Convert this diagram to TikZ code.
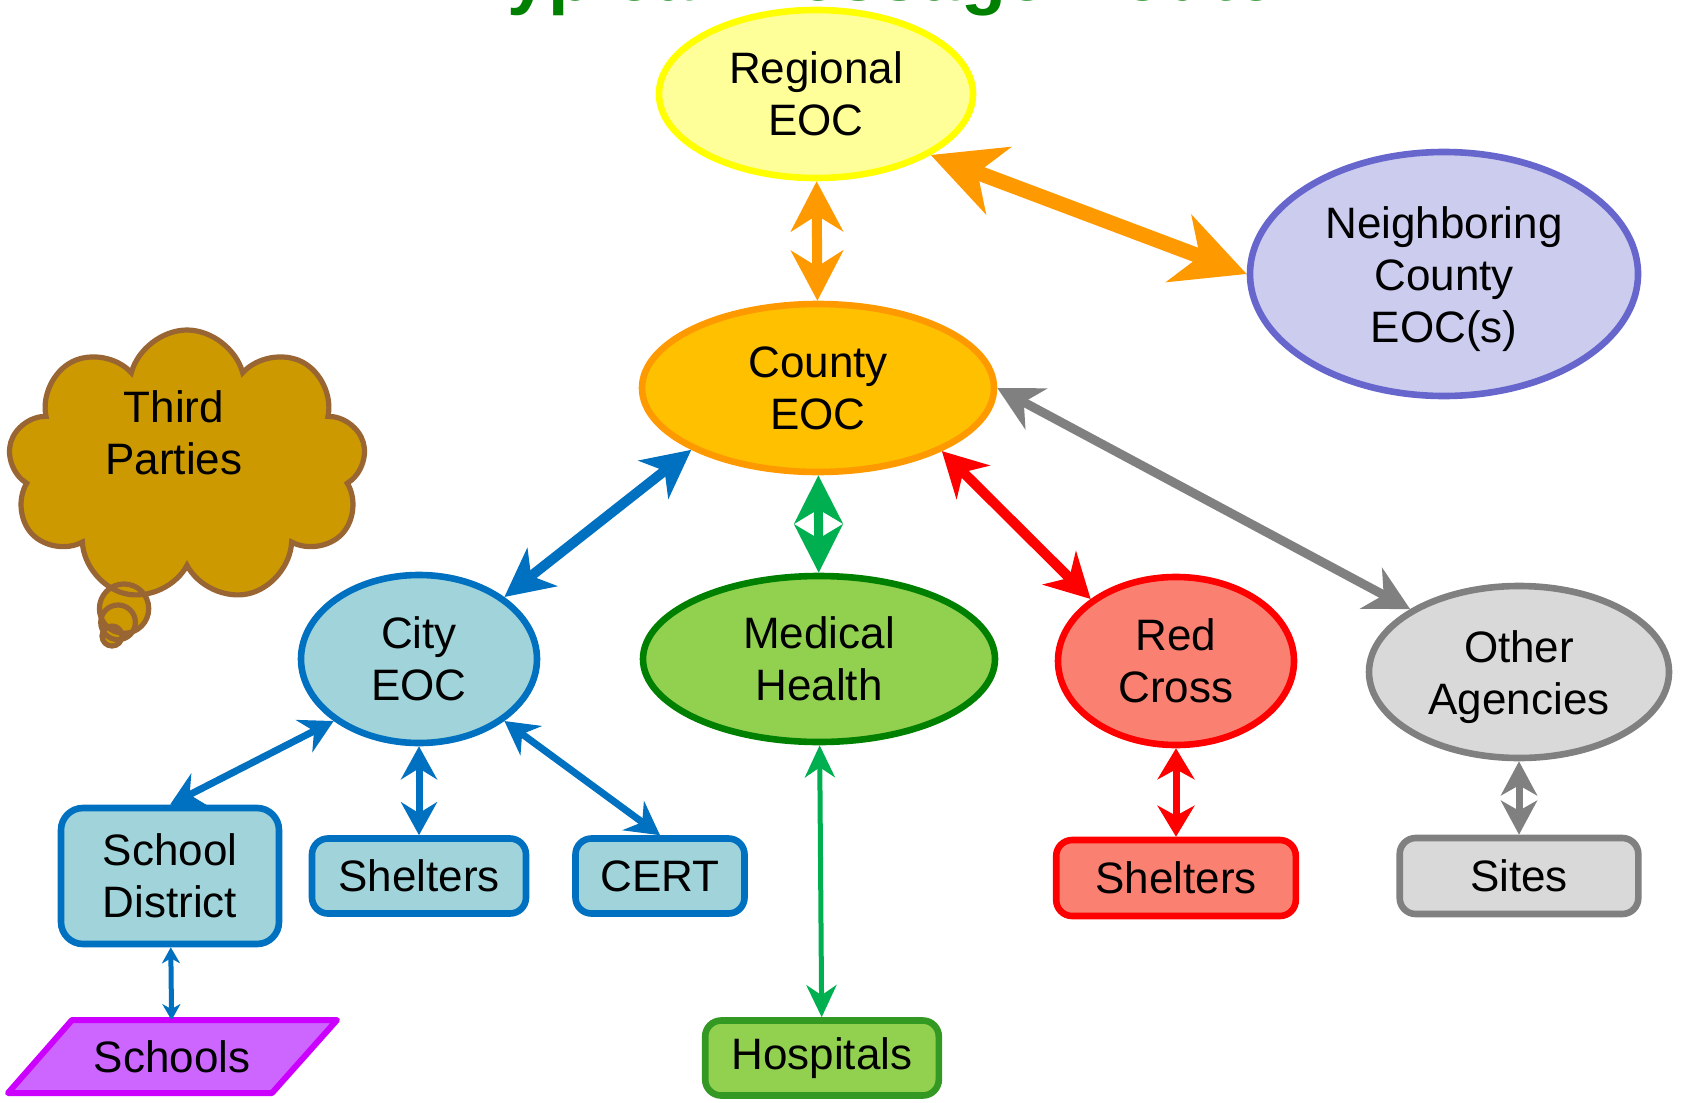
\documentclass[tikz,border=0pt]{standalone}
\usepackage{fontspec}
\setmainfont{Liberation Sans}
\usetikzlibrary{arrows.meta,shapes.geometric,shapes.symbols,shapes.callouts}

\definecolor{titlegreen}{HTML}{008000}
\definecolor{regfill}{HTML}{FFFF99}
\definecolor{regline}{HTML}{FFFF00}
\definecolor{nbrfill}{HTML}{CCCCEE}
\definecolor{nbrline}{HTML}{6666CC}
\definecolor{ctyfill}{HTML}{FFC000}
\definecolor{ctyline}{HTML}{FF9900}
\definecolor{cityfill}{HTML}{A0D4DA}
\definecolor{blueline}{HTML}{0070C0}
\definecolor{medfill}{HTML}{92D050}
\definecolor{medline}{HTML}{008000}
\definecolor{hospline}{HTML}{339922}
\definecolor{rcfill}{HTML}{FA8072}
\definecolor{rcline}{HTML}{FF0000}
\definecolor{othfill}{HTML}{D9D9D9}
\definecolor{othline}{HTML}{808080}
\definecolor{tpfill}{HTML}{CC9900}
\definecolor{tpline}{HTML}{996633}
\definecolor{schfill}{HTML}{CC66FF}
\definecolor{schline}{HTML}{CC00FF}
\definecolor{linkorange}{HTML}{FF9900}
\definecolor{linkgreen}{HTML}{00B050}
\definecolor{linkgrey}{HTML}{808080}

\begin{document}
\begin{tikzpicture}[x=0.5pt, y=-0.5pt,
  font=\fontsize{22}{26}\selectfont,
  oval/.style={ellipse, line width=3.3pt, align=center, inner sep=0pt},
  box/.style={rectangle, rounded corners=8pt, line width=3.3pt, align=center, inner sep=0pt},
  dbl/.style n args={4}{line width=#1,
    arrows={Stealth[length=#2, width=#3, inset=#4]-Stealth[length=#2, width=#3, inset=#4]}}
]
\path[use as bounding box, fill=white] (0,0) rectangle (1690,1102);

% heading, running off the top edge
\node[anchor=base, text=titlegreen, font=\fontsize{36.8}{40}\selectfont\bfseries] (title) at (872,1) {Typical Message Route};

% main agencies
\node[oval, fill=regfill, draw=regline, minimum width=157pt, minimum height=84pt] (reg) at (816,94) {Regional\\EOC};
\node[oval, fill=nbrfill, draw=nbrline, minimum width=194pt, minimum height=122pt] (nbr) at (1444,274) {\rule{0pt}{21pt}Neighboring\\County\\EOC(s)};
\node[oval, fill=ctyfill, draw=ctyline, minimum width=176pt, minimum height=84pt] (cty) at (818,388) {County\\EOC};
\node[oval, fill=cityfill, draw=blueline, minimum width=118pt, minimum height=84pt] (city) at (419,659) {City\\EOC};
\node[oval, fill=medfill, draw=medline, minimum width=176pt, minimum height=83pt] (med) at (819,659) {Medical\\Health};
\node[oval, fill=rcfill, draw=rcline, minimum width=118pt, minimum height=84pt] (rc) at (1176,661) {Red\\Cross};
\node[oval, fill=othfill, draw=othline, minimum width=150pt, minimum height=86pt] (oth) at (1519,672) {\rule{0pt}{21pt}Other\\Agencies};

% third parties thought cloud
\node[cloud callout, cloud puffs=9, cloud ignores aspect, minimum width=179pt, minimum height=136pt,
  callout absolute pointer={(112,636)}, callout pointer segments=3,
  callout pointer start size=34pt and 32pt, callout pointer end size=10pt and 10pt,
  fill=tpfill, draw=tpline, line width=2.6pt] (tp) at (187,466) {};
\node[align=center] (tptext) at (174,433) {Third\\Parties};

% field units
\node[box, rounded corners=11pt, fill=cityfill, draw=blueline, minimum width=109pt, minimum height=68pt] (sd) at (170,876) {School\\District};
\node[box, fill=cityfill, draw=blueline, minimum width=107pt, minimum height=37.5pt] (shb) at (419,876) {Shelters};
\node[box, fill=cityfill, draw=blueline, minimum width=84.5pt, minimum height=37.5pt] (cert) at (660,876) {CERT};
\node[box, fill=medfill, draw=hospline, minimum width=116.8pt, minimum height=37.5pt] (hosp) at (822,1058) {Hospitals};
\node[box, fill=rcfill, draw=rcline, minimum width=119.8pt, minimum height=38pt] (shr) at (1176,878) {Shelters};
\node[box, fill=othfill, draw=othline, minimum width=119.3pt, minimum height=38pt] (sites) at (1519,876) {Sites};

% schools parallelogram
\filldraw[fill=schfill, draw=schline, line width=3pt, line join=round]
  (72,1020) -- (337,1020) -- (272,1093) -- (8,1093) -- cycle;
\node[rectangle, minimum width=132pt, minimum height=36.5pt, inner sep=0pt] (sch) at (172,1057) {Schools};

% message links
\draw[draw=linkorange, dbl={5pt}{25pt}{26pt}{8pt}] (reg) -- (cty);
\draw[draw=linkorange, dbl={7.5pt}{36pt}{35.5pt}{11pt}] (reg.-28.6) -- (nbr.west);
\draw[draw=linkgrey, dbl={4.5pt}{22pt}{23pt}{7pt}] (cty.east) -- (oth.150);
\draw[draw=rcline, dbl={5pt}{22pt}{23.5pt}{7pt}] (cty.-27) -- (rc.144);
\draw[draw=linkgreen, dbl={4.5pt}{24pt}{24pt}{7pt}] (cty) -- (med);
\draw[draw=blueline, dbl={5pt}{24pt}{24pt}{7pt}] (cty.206) -- (city.36);
\draw[draw=blueline, dbl={3.5pt}{16.5pt}{18pt}{5.5pt}] (city.216) -- (sd.north);
\draw[draw=blueline, dbl={3.5pt}{16.5pt}{18pt}{5.5pt}] (city) -- (shb);
\draw[draw=blueline, dbl={3.5pt}{16.5pt}{18pt}{5.5pt}] (city.-36) -- (cert.north);
\draw[draw=blueline, dbl={2.5pt}{8pt}{9pt}{2.5pt}] (sd) -- (sch);
\draw[draw=linkgreen, dbl={2.5pt}{16pt}{15pt}{5pt}] (med) -- (hosp);
\draw[draw=rcline, dbl={3.5pt}{15.5pt}{18.5pt}{5pt}] (rc) -- (shr);
\draw[draw=linkgrey, dbl={3.5pt}{17pt}{18pt}{5pt}] (oth) -- (sites);
\end{tikzpicture}
\end{document}
